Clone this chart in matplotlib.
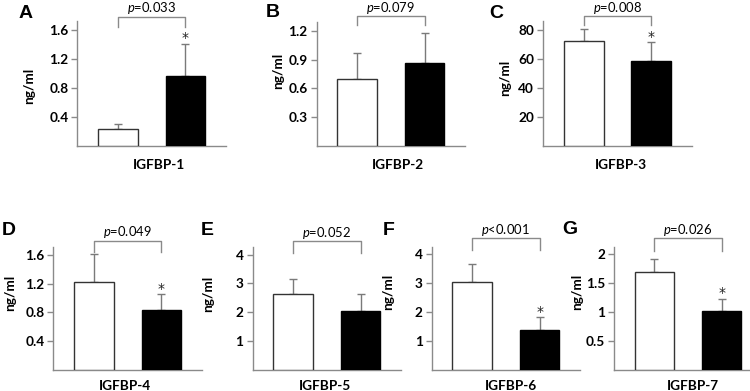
import matplotlib
matplotlib.use("Agg")
import matplotlib.pyplot as plt
import matplotlib.transforms as mtransforms

plt.rcParams['font.family'] = ['Lato', 'DejaVu Sans']
plt.rcParams['mathtext.fontset'] = 'custom'
plt.rcParams['mathtext.it'] = 'Lato:italic'
plt.rcParams['mathtext.rm'] = 'Lato'

# values (mean, SD) for the two groups
letters = ['A', 'B', 'C', 'D', 'E', 'F', 'G']
proteins = ['IGFBP-1', 'IGFBP-2', 'IGFBP-3', 'IGFBP-4', 'IGFBP-5', 'IGFBP-6', 'IGFBP-7']
white_mean = [0.23, 0.70, 72.5, 1.23, 2.62, 3.03, 1.69]
white_sd = [0.07, 0.275, 7.9, 0.38, 0.53, 0.62, 0.22]
black_mean = [0.97, 0.87, 58.5, 0.83, 2.04, 1.38, 1.005]
black_sd = [0.44, 0.31, 12.9, 0.22, 0.59, 0.43, 0.22]
p_values = ['$p$=0.033', '$p$=0.079', '$p$=0.008', '$p$=0.049',
            '$p$=0.052', '$p$<0.001', '$p$=0.026']
starred = [True, False, True, True, False, True, True]
y_max = [1.72, 1.30, 85.8, 1.72, 4.29, 4.26, 2.13]
y_ticks = [[0.4, 0.8, 1.2, 1.6], [0.3, 0.6, 0.9, 1.2], [20, 40, 60, 80],
           [0.4, 0.8, 1.2, 1.6], [1, 2, 3, 4], [1, 2, 3, 4], [0.5, 1, 1.5, 2]]
y_ticklabels = [['0.4', '0.8', '1.2', '1.6'], ['0.3', '0.6', '0.9', '1.2'],
                ['20', '40', '60', '80'], ['0.4', '0.8', '1.2', '1.6'],
                ['1', '2', '3', '4'], ['1', '2', '3', '4'], ['0.5', '1', '1.5', '2']]

# layout in pixels (figure is 750 x 391)
W, H = 750.0, 391.0
x_span = [(77.3, 226), (316.7, 465), (543.3, 691.7),
          (53.3, 202), (252.5, 401), (431.7, 580), (614, 762)]
row = [(21.5, 145.5)] * 3 + [(246.5, 369.5)] * 4
ylab_pos = [(29, 86), (278, 71), (505, 78), (10, 293), (208, 294), (388, 292), (577, 292)]
xlab_pos = [(159, 165), (398, 165), (621, 165), (125, 385.5), (324.5, 385.5), (510.6, 385.5), (692.5, 385.5)]
letter_pos = [(25.5, 13.5), (273, 12.5), (496, 13), (9, 231), (207.5, 231), (389, 231), (569.5, 230)]
bracket_top = [1.039, 1.045, 1.045, 1.047, 1.045, 1.067, 1.067]
bracket_leg = [0.953, 0.968, 0.968, 0.953, 0.945, 0.969, 0.963]

GREY = '#8a8a8a'
FS = 9.8
fig = plt.figure(figsize=(7.5, 3.91), dpi=100)

for i in range(7):
    x0, x1 = x_span[i]
    top, bot = row[i]
    ax = fig.add_axes([x0 / W, (H - bot) / H, (x1 - x0) / W, (bot - top) / H])

    pos = [0, 1]
    ax.bar(pos, [white_mean[i], black_mean[i]], width=0.59,
           color=['white', 'black'], edgecolor=['#333333', 'black'],
           linewidth=1, zorder=3)
    ax.errorbar(pos, [white_mean[i], black_mean[i]],
                yerr=[[0, 0], [white_sd[i], black_sd[i]]],
                fmt='none', ecolor='#7a7a7a', elinewidth=1, capsize=2.9,
                capthick=1, zorder=2)

    ax.set_xlim(-0.6, 1.6)
    ax.set_ylim(0, y_max[i])
    ax.set_yticks(y_ticks[i])
    ax.set_yticklabels(y_ticklabels[i], fontweight='bold', fontsize=FS)
    ax.set_xticks([])
    for s in ['top', 'right']:
        ax.spines[s].set_visible(False)
    for s in ['left', 'bottom']:
        ax.spines[s].set_color(GREY)
        ax.spines[s].set_linewidth(1)
    ax.tick_params(axis='y', direction='out', length=4, width=1,
                   color=GREY, pad=2.5)

    w = x1 - x0
    h = bot - top
    ax.set_ylabel('ng/ml', fontweight='bold', fontsize=FS, va='center')
    ax.yaxis.set_label_coords((ylab_pos[i][0] - x0) / w, (bot - ylab_pos[i][1]) / h)
    ax.set_xlabel(proteins[i], fontweight='bold', fontsize=FS, va='center')
    ax.xaxis.set_label_coords((xlab_pos[i][0] - x0) / w, (bot - xlab_pos[i][1]) / h)

    # significance bracket with p value
    trans = mtransforms.blended_transform_factory(ax.transData, ax.transAxes)
    ax.plot([0, 0, 1, 1], [bracket_leg[i], bracket_top[i], bracket_top[i], bracket_leg[i]],
            color=GREY, lw=1, transform=trans, clip_on=False)
    ax.annotate(p_values[i], xy=(0.5, bracket_top[i]), xycoords=trans,
                xytext=(0, 0.3), textcoords='offset points',
                ha='center', va='bottom', fontsize=9.4)

    if starred[i]:
        ax.annotate('*', xy=(1, black_mean[i] + black_sd[i]),
                    xytext=(0, -1), textcoords='offset points',
                    ha='center', va='bottom', fontsize=10,
                    family='DejaVu Sans', color='#222222')

    fig.text(letter_pos[i][0] / W, 1 - letter_pos[i][1] / H, letters[i],
             family='Liberation Sans', fontweight='bold', fontsize=14,
             ha='center', va='center')

fig.savefig('out.png', dpi=100)
